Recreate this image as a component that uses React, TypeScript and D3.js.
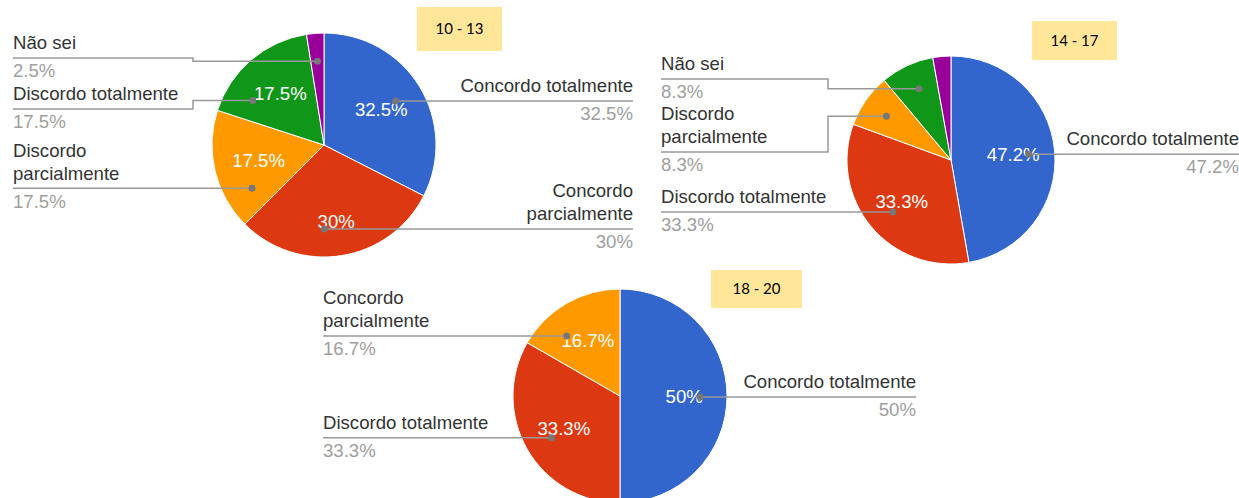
import React from "react";
import * as d3 from "d3";

// ---------- DATA ----------
const titles = ["10 - 13", "14 - 17", "18 - 20"];

const categories1 = ["Concordo totalmente", "Concordo parcialmente", "Discordo parcialmente", "Discordo totalmente", "Não sei"];
const values1 = [32.5, 30, 17.5, 17.5, 2.5];

const categories2 = ["Concordo totalmente", "Discordo totalmente", "Discordo parcialmente", "Não sei", "Concordo parcialmente"];
const values2 = [47.2, 33.3, 8.3, 8.3, 2.8];

const categories3 = ["Concordo totalmente", "Discordo totalmente", "Concordo parcialmente"];
const values3 = [50, 33.3, 16.7];

const sliceColors = ["#3366CC", "#DC3912", "#FF9900", "#109618", "#990099"];

// ---------- LAYOUT ----------
type Layout = {
  cx: number; cy: number; r: number;
  box: { x: number; y: number; w: number; h: number };
  leftX: number; rightX: number;
  sides: (string | null)[];
  lineY: (number | null)[];
};

const layouts: Layout[] = [
  {
    cx: 324, cy: 145, r: 112,
    box: { x: 417, y: 7, w: 85, h: 44 },
    leftX: 13, rightX: 633,
    sides: ["right", "right", "left", "left", "left"],
    lineY: [101, 229, 189, 109, 58],
  },
  {
    cx: 951, cy: 160, r: 104,
    box: { x: 1032, y: 21, w: 85, h: 39 },
    leftX: 661, rightX: 1239,
    sides: ["right", "left", "left", "left", null],
    lineY: [154, 212, 152, 79, null],
  },
  {
    cx: 620, cy: 396, r: 107,
    box: { x: 711, y: 270, w: 91, h: 38 },
    leftX: 323, rightX: 916,
    sides: ["right", "left", "left"],
    lineY: [397, 438, 336],
  },
];

const datasets = [
  { cats: categories1, vals: values1 },
  { cats: categories2, vals: values2 },
  { cats: categories3, vals: values3 },
];

const FONT = "'Liberation Sans', Arial, sans-serif";
const FS = 18.6;
const MARGIN = (14 * Math.PI) / 180;

function wrap(s: string): string[] {
  if (s.length > 20) return s.split(" ");
  return [s];
}

function fmt(v: number) {
  return `${v}%`;
}

function Pie({ idx }: { idx: number }) {
  const L = layouts[idx];
  const { cats, vals } = datasets[idx];
  const pie = d3.pie<number>().sort(null).value((d) => d);
  const arcs = pie(vals);
  const arcGen = d3.arc<d3.PieArcDatum<number>>().innerRadius(0).outerRadius(L.r);
  const dotR = L.r * 0.75;

  const pt = (a: number, rr: number) => [L.cx + rr * Math.sin(a), L.cy - rr * Math.cos(a)];

  return (
    <g>
      {arcs.map((a, i) => (
        <path key={"s" + i} d={arcGen(a) || ""} transform={`translate(${L.cx},${L.cy})`}
          fill={sliceColors[i]} stroke="#fff" strokeWidth={1} />
      ))}
      {arcs.map((a, i) => {
        if (vals[i] < 10) return null;
        const mid = (a.startAngle + a.endAngle) / 2;
        // labels near the bottom are pushed a bit further out
        const down = Math.max(0, -Math.cos(mid));
        const labR = L.r * (0.6 + 0.1 * Math.pow(down, 4));
        const [x, y] = pt(mid, labR);
        return (
          <text key={"p" + i} x={x} y={y + 6.5} textAnchor="middle" fill="#fff"
            fontFamily={FONT} fontSize={FS}>{fmt(vals[i])}</text>
        );
      })}
      {arcs.map((a, i) => {
        const side = L.sides[i];
        const ly = L.lineY[i];
        if (!side || ly == null) return null;
        const mid = (a.startAngle + a.endAngle) / 2;
        let lo = a.startAngle + MARGIN;
        let hi = a.endAngle - MARGIN;
        if (lo > mid) { lo = mid; hi = mid; }
        let best = mid;
        let bestD = Infinity;
        const steps = 200;
        for (let k = 0; k <= steps; k++) {
          const ang = lo + ((hi - lo) * k) / steps;
          const yy = L.cy - dotR * Math.cos(ang);
          const dd = Math.abs(yy - ly) + Math.abs(ang - mid) * 0.001;
          if (dd < bestD) { bestD = dd; best = ang; }
        }
        const [dx, dy] = pt(best, dotR);
        const names = wrap(cats[i]);
        const nameLines = names.map((n, k) => ({
          text: n,
          y: ly - 9.5 - (names.length - 1 - k) * 23,
        }));
        const isLeft = side === "left";
        const tx = isLeft ? L.leftX : L.rightX;
        const anchor = isLeft ? "start" : "end";
        let path: string;
        if (isLeft) {
          const elbowX = L.cx - L.r - 19;
          if (Math.abs(dy - ly) > 1.5) {
            path = `M${L.leftX},${ly}H${elbowX}V${dy}H${dx}`;
          } else {
            path = `M${L.leftX},${dy}H${dx}`;
          }
        } else {
          const elbowX = L.cx + L.r + 19;
          if (Math.abs(dy - ly) > 1.5) {
            path = `M${dx},${dy}H${elbowX}V${ly}H${L.rightX}`;
          } else {
            path = `M${dx},${dy}H${L.rightX}`;
          }
        }
        return (
          <g key={"l" + i}>
            {nameLines.map((nl, k) => (
              <text key={k} x={tx} y={nl.y} textAnchor={anchor} fill="#333"
                fontFamily={FONT} fontSize={FS}>{nl.text}</text>
            ))}
            <text x={tx} y={ly + 19} textAnchor={anchor} fill="#9e9e9e"
              fontFamily={FONT} fontSize={FS}>{fmt(vals[i])}</text>
            <path d={path} fill="none" stroke="#999" strokeWidth={1.5} />
            <circle cx={dx} cy={dy} r={3.5} fill="#777" />
          </g>
        );
      })}
      <rect x={L.box.x} y={L.box.y} width={L.box.w} height={L.box.h} fill="#FFE699" />
      <text x={L.box.x + L.box.w / 2} y={L.box.y + L.box.h / 2 + 5} textAnchor="middle"
        fontFamily="Lato, 'Open Sans', sans-serif" fontSize={15} fill="#000">{titles[idx]}</text>
    </g>
  );
}

export default function App() {
  return (
    <svg width={1239} height={498} style={{ position: "absolute", left: 0, top: 0, background: "#fff" }}>
      <rect x={0} y={0} width={1239} height={498} fill="#fff" />
      {layouts.map((_, i) => (
        <Pie key={i} idx={i} />
      ))}
    </svg>
  );
}
